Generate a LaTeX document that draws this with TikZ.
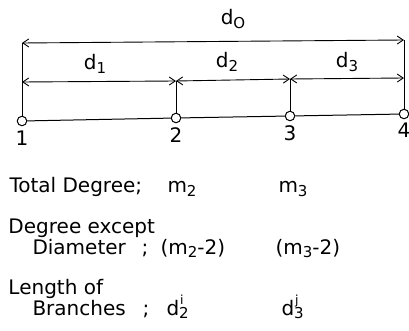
\documentclass[tikz,border=0pt]{standalone}
\usepackage{fontspec}
\setmainfont{DejaVu Sans}
\usetikzlibrary{arrows.meta}
\newcommand{\sbx}[1]{\raisebox{-0.3ex}{\fontsize{15}{15}\selectfont #1}}
\newcommand{\spx}[1]{\raisebox{1.0ex}{\fontsize{12.5}{12.5}\selectfont #1}}
\begin{document}
\begin{tikzpicture}[x=1pt,y=-1pt,
  line width=1pt,
  vert/.style={circle,draw,fill=white,inner sep=0pt,minimum size=9.5pt,line width=1pt},
  lbl/.style={font=\fontsize{20}{24}\selectfont,inner sep=0pt},
  txt/.style={font=\fontsize{20}{24}\selectfont,inner sep=0pt,anchor=base west},
  dim/.style={{Straight Barb[length=6pt,width=8pt]}-{Straight Barb[length=6pt,width=8pt]},line width=0.9pt}]
\useasboundingbox (0,0) rectangle (409,331);
% vertices
\node[vert] (v1) at (22,121) {};
\node[vert] (v2) at (176,118) {};
\node[vert] (v3) at (290,116) {};
\node[vert] (v4) at (404,114) {};
\draw (v1) -- (v2) -- (v3) -- (v4);
% extension lines
\coordinate (t1) at (22,43);
\coordinate (t4) at (404,40);
\coordinate (m1) at (22,82);
\coordinate (m2) at (176,81);
\coordinate (m3) at (290,79);
\coordinate (m4) at (404,78);
\draw (v1) -- (t1);
\draw (v2) -- (m2);
\draw (v3) -- (m3);
\draw (v4) -- (t4);
% dimension arrows
\draw[dim] (t1) -- (t4);
\draw[dim] (m1) -- (m2);
\draw[dim] (m2) -- (m3);
\draw[dim] (m3) -- (m4);
% dimension labels
\node[lbl] (l0) at (233,19) {d\sbx{O}};
\node[lbl] (l1) at (95,64) {d\sbx{1}};
\node[lbl] (l2) at (227,62) {d\sbx{2}};
\node[lbl] (l3) at (347,62) {d\sbx{3}};
% vertex numbers
\node[lbl] (n1) at (22,138) {1};
\node[lbl] (n2) at (176,135) {2};
\node[lbl] (n3) at (290,133) {3};
\node[lbl] (n4) at (404,130) {4};
% table text
\node[txt] (r1) at (9,193) {Total Degree;};
\node[txt] (r1a) at (167,193) {m\sbx{2}};
\node[txt] (r1b) at (278,193) {m\sbx{3}};
\node[txt] (r2) at (8,233) {Degree except};
\node[txt] (r3) at (32,254) {Diameter};
\node[txt] (r3s) at (141,254) {;};
\node[txt] (r3a) at (160,254) {(m\sbx{2}-2)};
\node[txt] (r3b) at (275,254) {(m\sbx{3}-2)};
\node[txt] (r4) at (8,294) {Length of};
\node[txt] (r5) at (32,315) {Branches};
\node[txt] (r5s) at (142,315) {;};
\node[txt] (r5a) at (166,315) {d\rlap{\kern1pt\spx{i}}\sbx{2}};
\node[txt] (r5b) at (281,315) {d\rlap{\kern1pt\spx{j}}\sbx{3}};
\end{tikzpicture}
\end{document}
